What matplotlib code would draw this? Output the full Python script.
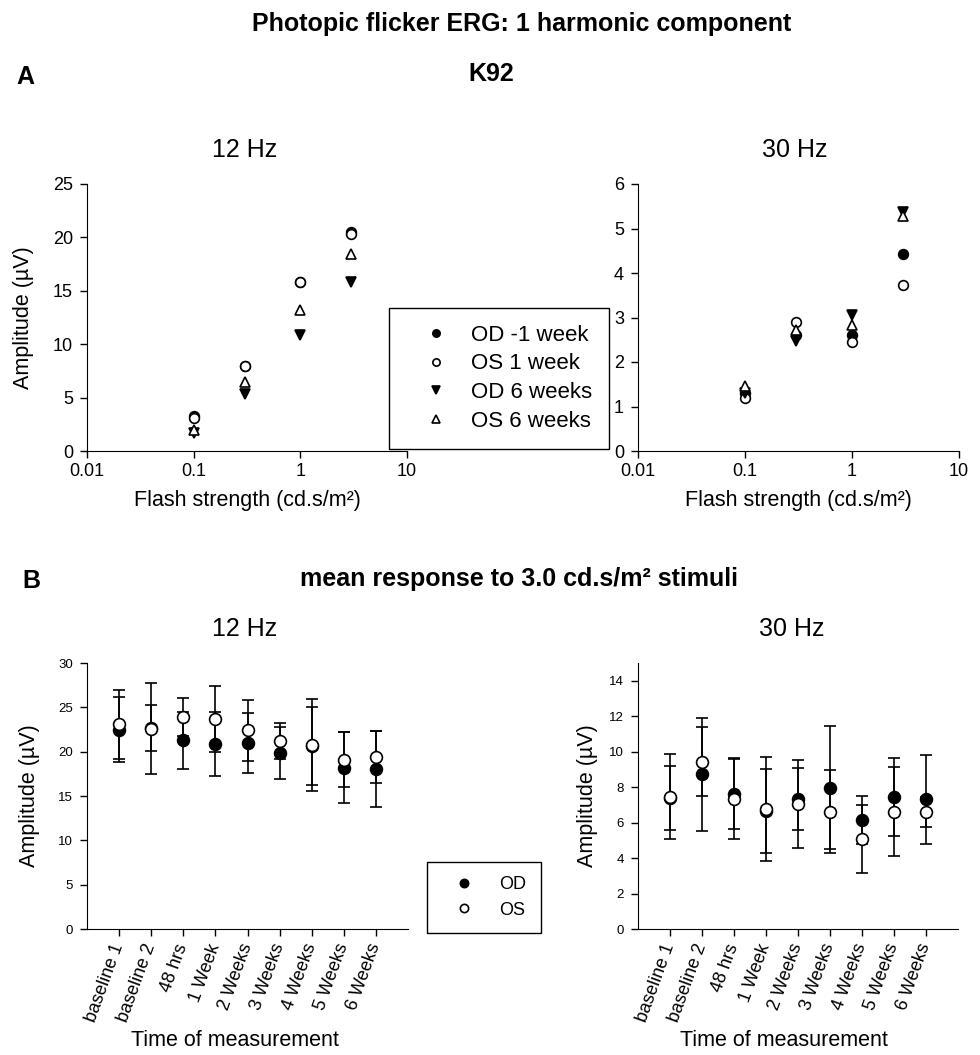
import matplotlib
matplotlib.use('Agg')
import matplotlib.pyplot as plt
import numpy as np

plt.rcParams['font.family'] = ['Liberation Sans', 'DejaVu Sans']
plt.rcParams['font.size'] = 13

# ---- panel A data: flash strength series ----
flash = [0.1, 0.3, 1.0, 3.0]
a12_od_m1 = [3.3, 8.0, 15.8, 20.5]
a12_os_1 = [3.1, 8.0, 15.8, 20.3]
a12_od_6 = [1.7, 5.3, 10.9, 15.8]
a12_os_6 = [2.0, 6.5, 13.2, 18.4]

a30_od_m1 = [1.3, 2.6, 2.61, 4.43]
a30_os_1 = [1.19, 2.91, 2.46, 3.74]
a30_od_6 = [1.31, 2.48, 3.06, 5.37]
a30_os_6 = [1.47, 2.72, 2.84, 5.27]

# ---- panel B data: mean response to 3.0 cd.s/m2 ----
times = ['baseline 1', 'baseline 2', '48 hrs', '1 Week', '2 Weeks',
         '3 Weeks', '4 Weeks', '5 Weeks', '6 Weeks']
b12_od = [22.5, 22.7, 21.3, 20.9, 21.0, 19.85, 20.6, 18.2, 18.05]
b12_od_err = [3.7, 2.6, 3.2, 3.6, 3.4, 2.9, 4.4, 4.0, 4.25]
b12_os = [23.1, 22.6, 23.9, 23.7, 22.4, 21.2, 20.8, 19.1, 19.4]
b12_os_err = [3.9, 5.1, 2.15, 3.7, 3.4, 2.0, 5.2, 3.1, 2.9]

b30_od = [7.4, 8.72, 7.62, 6.65, 7.32, 7.97, 6.15, 7.47, 7.32]
b30_od_err = [1.8, 3.2, 2.0, 2.35, 1.75, 3.45, 1.35, 2.2, 2.5]
b30_os = [7.47, 9.44, 7.32, 6.77, 7.05, 6.62, 5.07, 6.62, 6.62]
b30_os_err = [2.4, 1.95, 2.25, 2.95, 2.5, 2.35, 1.9, 2.5, 0.85]

fig = plt.figure(figsize=(9.8, 10.55), dpi=100)
W, H = 980, 1055
LBL = 15.5

def add_ax(x0, x1, ytop, ybot):
    ax = fig.add_axes([x0 / W, 1 - ybot / H, (x1 - x0) / W, (ybot - ytop) / H])
    ax.spines['top'].set_visible(False)
    ax.spines['right'].set_visible(False)
    ax.tick_params(direction='out', length=5, width=1)
    ax.tick_params(axis='y', pad=5)
    return ax

def style_flash(ax, ymax, ystep):
    ax.set_xscale('log')
    ax.set_xlim(0.01, 10)
    ax.set_xticks([0.01, 0.1, 1, 10])
    ax.set_xticklabels(['0.01', '0.1', '1', '10'])
    ax.xaxis.set_minor_locator(matplotlib.ticker.NullLocator())
    ax.set_ylim(0, ymax)
    ax.set_yticks(np.arange(0, ymax + 0.01, ystep))
    ax.tick_params(labelsize=13)
    ax.set_xlabel('Flash strength (cd.s/m²)', fontsize=LBL, labelpad=7)

mk = dict(linestyle='none', markersize=7, markeredgewidth=1.2, markeredgecolor='black')

# ---- A, 12 Hz ----
ax1 = add_ax(87, 407, 184, 451)
ax1.plot(flash, a12_od_m1, marker='o', color='black', **mk, label='OD -1 week')
ax1.plot(flash, a12_os_1, marker='o', markerfacecolor='white', **mk, label='OS 1 week')
ax1.plot(flash, a12_od_6, marker='v', color='black', **mk, label='OD 6 weeks')
ax1.plot(flash, a12_os_6, marker='^', markerfacecolor='white', **mk, label='OS 6 weeks')
style_flash(ax1, 25, 5)
ax1.set_ylabel('Amplitude (µV)', fontsize=LBL)
ax1.yaxis.set_label_coords(-0.165, 0.5)

# ---- A, 30 Hz ----
ax2 = add_ax(638, 959, 184, 451)
ax2.plot(flash, a30_od_m1, marker='o', color='black', **mk)
ax2.plot(flash, a30_os_1, marker='o', markerfacecolor='white', **mk)
ax2.plot(flash, a30_od_6, marker='v', color='black', **mk)
ax2.plot(flash, a30_os_6, marker='^', markerfacecolor='white', **mk)
style_flash(ax2, 6, 1)

h, l = ax1.get_legend_handles_labels()
fig.legend(h, l, loc='upper left', bbox_to_anchor=(389 / W, 1 - 308 / H),
           frameon=True, fancybox=False, edgecolor='black', framealpha=1,
           fontsize=16, handletextpad=0.25, borderpad=0.75, borderaxespad=0,
           labelspacing=0.35, handlelength=2.7, markerscale=0.75)

# ---- B panels ----
xb = np.arange(1, len(times) + 1)
eb = dict(linestyle='none', markersize=8.5, markeredgewidth=1.2, markeredgecolor='black',
          ecolor='black', elinewidth=1.2, capsize=4, capthick=1.2)

def style_time(ax, ymax, ystep, ylab_x, xlab_x):
    ax.set_xlim(0, 10)
    ax.set_xticks(xb)
    ax.set_xticklabels(times, rotation=70, ha='right', va='center',
                       rotation_mode='anchor', fontsize=13)
    ax.tick_params(axis='x', pad=6)
    ax.set_ylim(0, ymax)
    ax.set_yticks(np.arange(0, ymax, ystep))
    ax.tick_params(axis='y', labelsize=9.5)
    ax.set_ylabel('Amplitude (µV)', fontsize=LBL)
    ax.yaxis.set_label_coords(ylab_x, 0.5)
    ax.set_xlabel('Time of measurement', fontsize=LBL)
    ax.xaxis.set_label_coords(xlab_x, -0.38)

ax3 = add_ax(87, 408, 663, 929)
ax3.errorbar(xb, b12_od, yerr=b12_od_err, marker='o', color='black', label='OD', **eb)
ax3.errorbar(xb, b12_os, yerr=b12_os_err, marker='o', color='black',
             markerfacecolor='white', label='OS', **eb)
style_time(ax3, 30.01, 5, -0.146, 0.46)

ax4 = add_ax(638, 958, 663, 929)
ax4.errorbar(xb, b30_od, yerr=b30_od_err, marker='o', color='black', **eb)
ax4.errorbar(xb, b30_os, yerr=b30_os_err, marker='o', color='black',
             markerfacecolor='white', **eb)
style_time(ax4, 15, 2, -0.125, 0.456)

h3, l3 = ax3.get_legend_handles_labels()
h3 = [hh[0] for hh in h3]
fig.legend(h3, l3, loc='upper left', bbox_to_anchor=(427 / W, 1 - 862 / H),
           frameon=True, fancybox=False, edgecolor='black', framealpha=1,
           fontsize=13, handletextpad=0.75, borderpad=0.8, borderaxespad=0,
           labelspacing=0.45, handlelength=2.45, markerscale=0.7)

# ---- headings ----
def head(x, y, s, bold=False):
    fig.text(x / W, 1 - y / H, s, ha='left', va='baseline', fontsize=18,
             fontweight='bold' if bold else 'normal')

head(252, 31, 'Photopic flicker ERG: 1 harmonic component', True)
head(16, 84, 'A', True)
head(468, 81, 'K92', True)
head(212, 157, '12 Hz')
head(762, 157, '30 Hz')
head(22, 588, 'B', True)
head(300, 586, 'mean response to 3.0 cd.s/m² stimuli', True)
head(212, 636, '12 Hz')
head(759, 636, '30 Hz')

fig.savefig('out.png', dpi=100, facecolor='white')
